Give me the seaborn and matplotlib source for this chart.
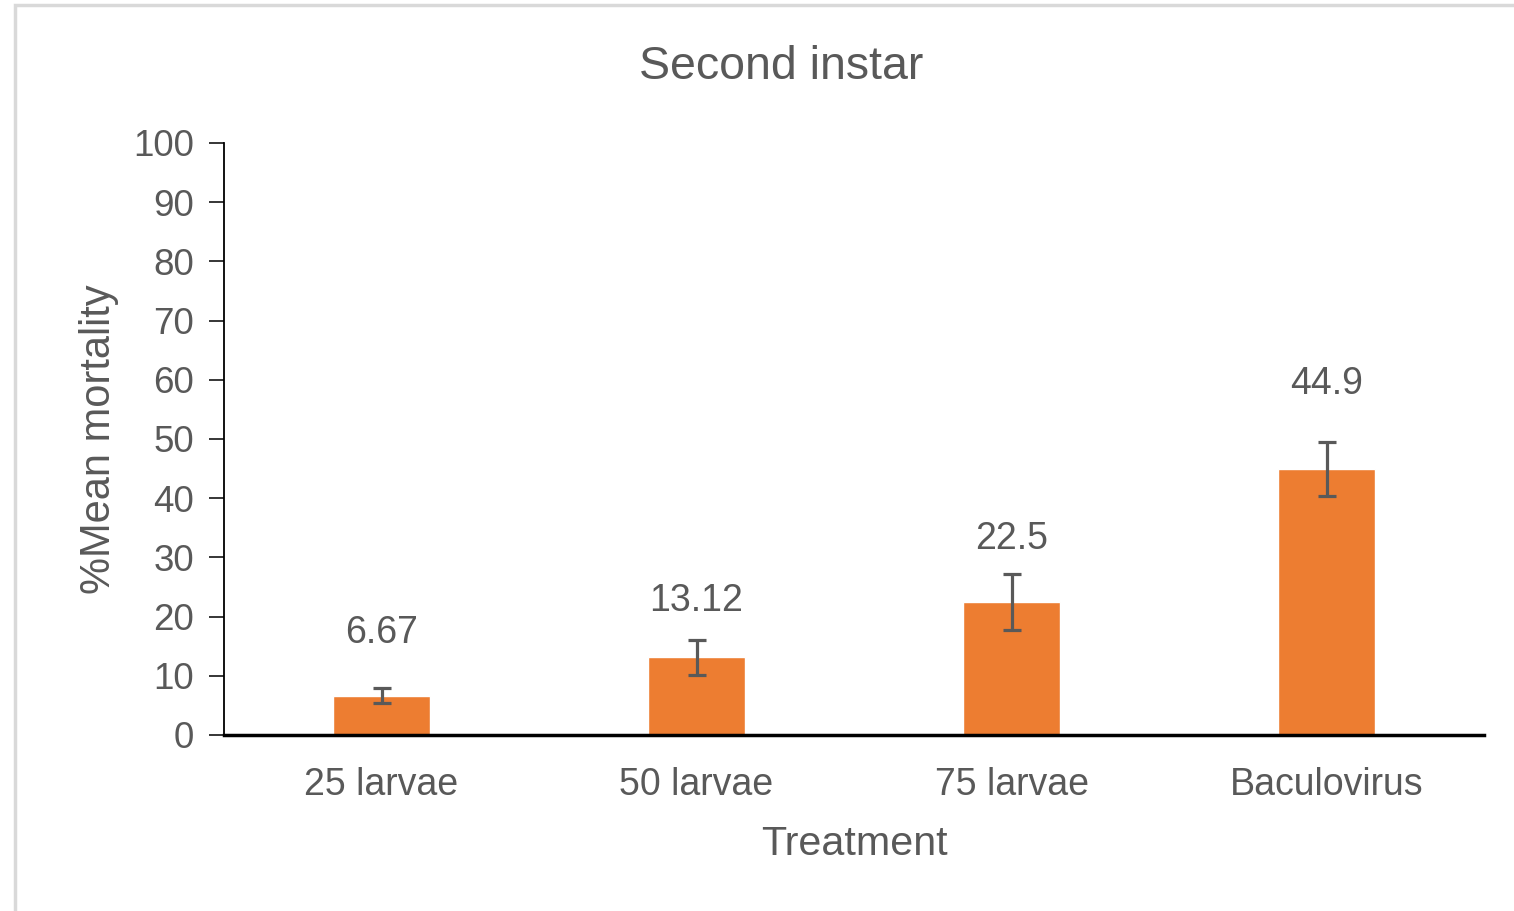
import matplotlib
matplotlib.use("Agg")
import matplotlib.pyplot as plt
import seaborn as sns
import pandas as pd
from matplotlib.patches import Rectangle

# ---- data ----
categories = ["25 larvae", "50 larvae", "75 larvae", "Baculovirus"]
mortality = [6.67, 13.12, 22.5, 44.9]
errors = [1.3, 3.0, 4.7, 4.6]
value_labels = ["6.67", "13.12", "22.5", "44.9"]
y_ticks = [0, 10, 20, 30, 40, 50, 60, 70, 80, 90, 100]

# ---- style ----
label_pad_px = [63, 56, 63, 85]
TEXT = "#595959"
BAR = "#ED7D31"

sns.set_theme(style="white")
plt.rcParams["font.family"] = ["Liberation Sans", "DejaVu Sans"]

fig = plt.figure(figsize=(15.14, 9.11), dpi=100)
fig.patch.set_facecolor("white")
fig.patches.append(Rectangle((15 / 1514, -0.1), 1.2, 1.1 - 5.5 / 911,
                             transform=fig.transFigure, fill=False,
                             edgecolor="#D9D9D9", linewidth=2.5))

ax = fig.add_axes([224 / 1514, 1 - 735 / 911, (1484 - 224) / 1514, (735 - 143) / 911])

df = pd.DataFrame({"Treatment": categories, "Mortality": mortality})
sns.barplot(data=df, x="Treatment", y="Mortality", color=BAR, saturation=1,
            width=0.31, errorbar=None, ax=ax)

xs = [p.get_x() + p.get_width() / 2 for p in ax.patches]
ax.errorbar(xs, mortality, yerr=errors, fmt="none", ecolor=TEXT,
            elinewidth=2.3, capsize=6.5, capthick=2.3, zorder=5)

for x, v, lab, pad in zip(xs, mortality, value_labels, label_pad_px):
    ax.annotate(lab, (x, v), xytext=(0, pad), textcoords="offset pixels",
                ha="center", va="center", fontsize=27, color=TEXT)

ax.set_ylim(0, 100)
ax.set_xlim(-0.5, 3.5)
ax.set_yticks(y_ticks)
ax.set_yticklabels([str(t) for t in y_ticks])

for s in ["top", "right"]:
    ax.spines[s].set_visible(False)
ax.spines["left"].set_color("black")
ax.spines["left"].set_linewidth(1.3)
ax.spines["bottom"].set_color("black")
ax.spines["bottom"].set_linewidth(2.5)
ax.spines["bottom"].set_zorder(6)

ax.tick_params(axis="y", direction="out", length=10.5, width=1.1, color="black",
               labelsize=26.5, labelcolor=TEXT, pad=11, left=True)
ax.tick_params(axis="x", length=0, labelsize=27, labelcolor=TEXT, pad=23)

ax.set_xlabel("Treatment", fontsize=29.7, color=TEXT, labelpad=16)
ax.set_ylabel("%Mean mortality", fontsize=30, color=TEXT, labelpad=10)
ax.grid(False)

fig.text(781 / 1514, 1 - 67 / 911, "Second instar", ha="center", va="center",
         fontsize=33.5, color=TEXT)

fig.savefig("out.png", dpi=100, facecolor="white")
